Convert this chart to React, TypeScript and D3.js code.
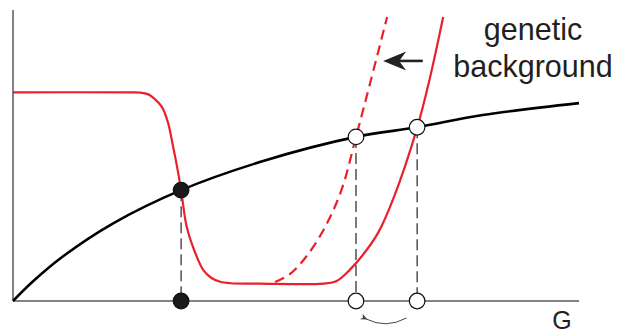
import React from "react";
import * as d3 from "d3";

// Production (black) curve: rate rising and saturating with G
const productionG = [0, 0.35, 0.88, 1.77, 2.97, 4.42, 6.06, 7.14, 8.3, 10];
const productionY = [0, 0.67, 1.53, 2.67, 3.81, 4.81, 5.64, 5.97, 6.39, 6.8];

// Removal (red) curve for the reference genetic background
const removalG = [0, 2.1, 2.25, 2.39, 2.47, 2.63, 2.74, 2.83, 2.9, 2.97, 3.07, 3.22, 3.36, 3.5, 3.66, 3.85, 4.35, 5.48, 5.72, 5.95, 6.18, 6.45, 6.73, 7.14, 7.37, 7.6];
const removalY = [7.17, 7.17, 7.16, 7.1, 7.0, 6.67, 6.12, 5.29, 4.6, 3.81, 2.54, 1.65, 1.07, 0.8, 0.66, 0.61, 0.6, 0.6, 0.69, 1.07, 1.58, 2.34, 3.57, 5.95, 7.7, 9.76];

// Removal curve after the shift in genetic background (dashed)
const shiftedG = [4.63, 4.89, 5.21, 5.53, 5.81, 6.06, 6.31, 6.61];
const shiftedY = [0.65, 0.92, 1.6, 2.6, 3.85, 5.64, 7.49, 9.76];

// Steady states where the curves cross
const steadyG = [2.97, 6.06, 7.14];
const steadyY = [3.81, 5.64, 5.97];
const steadyStable = [true, false, false];

const labelLines = ["genetic", "background"];
const axisLabel = "G";

const W = 621;
const H = 333;

const x = d3.scaleLinear().domain([0, 10]).range([13, 579]);
const y = d3.scaleLinear().domain([0, 10]).range([301, 10]);

const line = d3
  .line<[number, number]>()
  .x((d) => x(d[0]))
  .y((d) => y(d[1]))
  .curve(d3.curveCatmullRom.alpha(0.5));

const zip = (a: number[], b: number[]) => a.map((v, i) => [v, b[i]] as [number, number]);

export default function App() {
  const red = "#e8212b";
  const axisColor = "#5a5a5a";
  const textColor = "#231f20";

  // big arrow showing the shift direction
  const ax0 = x(7.24);
  const ax1 = x(6.54);
  const ay = y(8.25);

  // small curved arrow under the axis
  const sx0 = x(6.95);
  const sx1 = x(6.24);
  const sy = y(0) + 17;

  return (
    <svg
      width={W}
      height={H}
      viewBox={`0 0 ${W} ${H}`}
      style={{ position: "absolute", left: 0, top: 0, background: "#fff" }}
    >
      <defs>
        <marker
          id="smallHead"
          viewBox="0 0 10 10"
          refX="2"
          refY="5"
          markerWidth="7"
          markerHeight="7"
          orient="auto-start-reverse"
        >
          <path d="M0,5 L10,0.5 L7,5 L10,9.5 Z" fill="#444" />
        </marker>
      </defs>

      {/* axes */}
      <line x1={x(0)} x2={x(0)} y1={y(10)} y2={y(0)} stroke={axisColor} strokeWidth={1.5} />
      <line x1={x(0)} x2={x(10)} y1={y(0)} y2={y(0)} stroke={axisColor} strokeWidth={1.5} />

      {/* projections of steady states onto the G axis */}
      {steadyG.map((g, i) => (
        <line
          key={"proj" + i}
          x1={x(g)}
          x2={x(g)}
          y1={y(steadyY[i])}
          y2={y(0)}
          stroke="#111"
          strokeWidth={1.1}
          strokeDasharray="11,5"
        />
      ))}

      {/* removal curves */}
      <path d={line(zip(shiftedG, shiftedY)) || ""} fill="none" stroke={red} strokeWidth={2.2} strokeDasharray="10,6" />
      <path d={line(zip(removalG, removalY)) || ""} fill="none" stroke={red} strokeWidth={2.2} />

      {/* production curve */}
      <path d={line(zip(productionG, productionY)) || ""} fill="none" stroke="#000" strokeWidth={2.6} />

      {/* steady state markers on the curves and on the axis */}
      {steadyG.map((g, i) => (
        <g key={"ss" + i}>
          <circle
            cx={x(g)}
            cy={y(steadyY[i])}
            r={7.8}
            fill={steadyStable[i] ? "#1a1a1a" : "#fff"}
            stroke="#111"
            strokeWidth={1.2}
          />
          <circle
            cx={x(g)}
            cy={y(0)}
            r={7.8}
            fill={steadyStable[i] ? "#1a1a1a" : "#fff"}
            stroke="#111"
            strokeWidth={1.2}
          />
        </g>
      ))}

      {/* shift arrow */}
      <line x1={ax0} x2={ax1 + 14} y1={ay} y2={ay} stroke="#222" strokeWidth={2.6} />
      <path
        d={`M${ax1},${ay} L${ax1 + 23},${ay - 9.5} L${ax1 + 16},${ay} L${ax1 + 23},${ay + 9.5} Z`}
        fill="#222"
      />

      {/* label */}
      {labelLines.map((t, i) => (
        <text
          key={t}
          x={533}
          y={40 + i * 37}
          textAnchor="middle"
          fontFamily="'Liberation Sans', Arial, sans-serif"
          fontSize={30.5}
          fill={textColor}
        >
          {t}
        </text>
      ))}

      {/* small arrow: steady state moves left */}
      <path
        d={`M${sx0},${sy} Q${(sx0 + sx1) / 2},${sy + 11} ${sx1},${sy + 1}`}
        fill="none"
        stroke="#444"
        strokeWidth={1}
        markerEnd="url(#smallHead)"
      />

      <text
        x={562}
        y={329}
        textAnchor="middle"
        fontFamily="'Liberation Sans', Arial, sans-serif"
        fontSize={25}
        fill={textColor}
      >
        {axisLabel}
      </text>
    </svg>
  );
}
